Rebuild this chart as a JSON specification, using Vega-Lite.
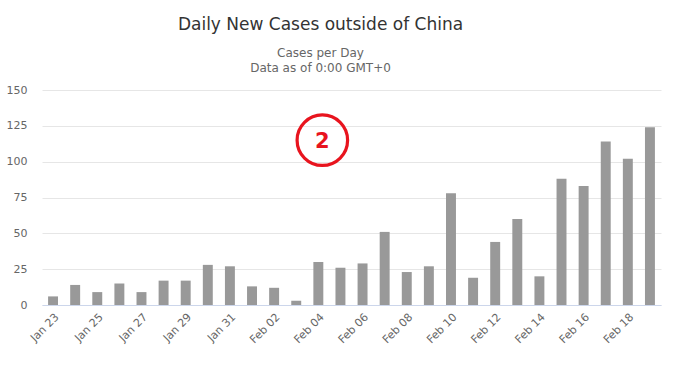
{
  "$schema": "https://vega.github.io/schema/vega-lite/v6.json",
  "autosize": {"type": "none"},
  "width": 619,
  "height": 215,
  "padding": {"left": 42, "top": 90, "right": 32, "bottom": 60},
  "background": "#ffffff",
  "config": {
    "font": "DejaVu Sans",
    "view": {"stroke": null},
    "axis": {"labelFont": "DejaVu Sans", "labelColor": "#666666", "labelFontSize": 11, "titleFontSize": 11}
  },
  "title": {
    "text": "Daily New Cases outside of China",
    "subtitle": ["Cases per Day", "Data as of 0:00 GMT+0"],
    "anchor": "middle",
    "frame": "group",
    "dx": -31,
    "fontSize": 17,
    "fontWeight": "normal",
    "color": "#333333",
    "subtitleFontSize": 12,
    "subtitleColor": "#666666",
    "subtitleLineHeight": 15,
    "subtitlePadding": 14,
    "offset": 9
  },
  "datasets": {
    "cases": [
      {"date": "Jan 23", "cases": 6},
      {"date": "Jan 24", "cases": 14},
      {"date": "Jan 25", "cases": 9},
      {"date": "Jan 26", "cases": 15},
      {"date": "Jan 27", "cases": 9},
      {"date": "Jan 28", "cases": 17},
      {"date": "Jan 29", "cases": 17},
      {"date": "Jan 30", "cases": 28},
      {"date": "Jan 31", "cases": 27},
      {"date": "Feb 01", "cases": 13},
      {"date": "Feb 02", "cases": 12},
      {"date": "Feb 03", "cases": 3},
      {"date": "Feb 04", "cases": 30},
      {"date": "Feb 05", "cases": 26},
      {"date": "Feb 06", "cases": 29},
      {"date": "Feb 07", "cases": 51},
      {"date": "Feb 08", "cases": 23},
      {"date": "Feb 09", "cases": 27},
      {"date": "Feb 10", "cases": 78},
      {"date": "Feb 11", "cases": 19},
      {"date": "Feb 12", "cases": 44},
      {"date": "Feb 13", "cases": 60},
      {"date": "Feb 14", "cases": 20},
      {"date": "Feb 15", "cases": 88},
      {"date": "Feb 16", "cases": 83},
      {"date": "Feb 17", "cases": 114},
      {"date": "Feb 18", "cases": 102},
      {"date": "Feb 19", "cases": 124}
    ],
    "note": [
      {"date": "Feb 04", "cases": 115, "label": "2"}
    ]
  },
  "encoding": {
    "x": {
      "field": "date", "type": "ordinal", "sort": null,
      "scale": {"paddingInner": 0.55, "paddingOuter": 0.275},
      "axis": {
        "title": null,
        "values": ["Jan 23","Jan 25","Jan 27","Jan 29","Jan 31","Feb 02","Feb 04","Feb 06","Feb 08","Feb 10","Feb 12","Feb 14","Feb 16","Feb 18"],
        "labelAngle": -45,
        "labelAlign": "right",
        "labelBaseline": "top",
        "labelPadding": 6,
        "labelOverlap": false,
        "ticks": false,
        "domainColor": "#ccd6eb",
        "domainWidth": 1,
        "grid": false
      }
    },
    "y": {
      "field": "cases", "type": "quantitative",
      "scale": {"domain": [0, 150], "nice": false},
      "axis": {
        "title": null,
        "values": [0, 25, 50, 75, 100, 125, 150],
        "labelOverlap": false,
        "ticks": false,
        "domain": false,
        "labelPadding": 15,
        "gridColor": "#e6e6e6",
        "gridWidth": 1
      }
    }
  },
  "layer": [
    {
      "data": {"name": "cases"},
      "mark": {"type": "bar", "color": "#999999"}
    },
    {
      "data": {"name": "note"},
      "mark": {"type": "point", "shape": "circle", "filled": false, "size": 2550, "stroke": "#e8141e", "strokeWidth": 3.2, "opacity": 1, "xOffset": 4}
    },
    {
      "data": {"name": "note"},
      "mark": {"type": "text", "color": "#e8141e", "fontSize": 21, "fontWeight": "bold", "font": "DejaVu Sans", "align": "center", "baseline": "middle", "xOffset": 4, "yOffset": 2},
      "encoding": {
        "text": {"field": "label"}
      }
    }
  ]
}
